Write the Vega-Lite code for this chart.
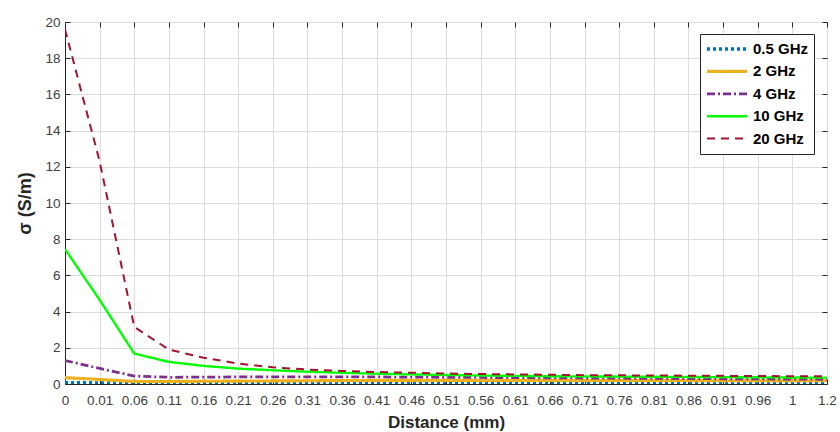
{
  "$schema": "https://vega.github.io/schema/vega-lite/v6.json",
  "width": 762,
  "height": 362,
  "autosize": {"type": "none"},
  "padding": {"left": 65, "top": 22, "right": 13, "bottom": 48},
  "background": "white",
  "config": {
    "font": "Liberation Sans",
    "view": {"stroke": "#262626", "strokeWidth": 1}
  },
  "datasets": {
    "sigma": [
      {"d": "0", "i": 0, "f": "0.5 GHz", "s": 0.07}, {"d": "0.01", "i": 1, "f": "0.5 GHz", "s": 0.06}, {"d": "0.06", "i": 2, "f": "0.5 GHz", "s": 0.05}, {"d": "0.11", "i": 3, "f": "0.5 GHz", "s": 0.05}, {"d": "0.16", "i": 4, "f": "0.5 GHz", "s": 0.05}, {"d": "0.21", "i": 5, "f": "0.5 GHz", "s": 0.05}, {"d": "0.26", "i": 6, "f": "0.5 GHz", "s": 0.05}, {"d": "0.31", "i": 7, "f": "0.5 GHz", "s": 0.06}, {"d": "0.36", "i": 8, "f": "0.5 GHz", "s": 0.06}, {"d": "0.41", "i": 9, "f": "0.5 GHz", "s": 0.06}, {"d": "0.46", "i": 10, "f": "0.5 GHz", "s": 0.06}, {"d": "0.51", "i": 11, "f": "0.5 GHz", "s": 0.06}, {"d": "0.56", "i": 12, "f": "0.5 GHz", "s": 0.06}, {"d": "0.61", "i": 13, "f": "0.5 GHz", "s": 0.06}, {"d": "0.66", "i": 14, "f": "0.5 GHz", "s": 0.06}, {"d": "0.71", "i": 15, "f": "0.5 GHz", "s": 0.06}, {"d": "0.76", "i": 16, "f": "0.5 GHz", "s": 0.06}, {"d": "0.81", "i": 17, "f": "0.5 GHz", "s": 0.06}, {"d": "0.86", "i": 18, "f": "0.5 GHz", "s": 0.06}, {"d": "0.91", "i": 19, "f": "0.5 GHz", "s": 0.06}, {"d": "0.96", "i": 20, "f": "0.5 GHz", "s": 0.06}, {"d": "1", "i": 21, "f": "0.5 GHz", "s": 0.06}, {"d": "1.2", "i": 22, "f": "0.5 GHz", "s": 0.06},
      {"d": "0", "i": 0, "f": "2 GHz", "s": 0.35}, {"d": "0.01", "i": 1, "f": "2 GHz", "s": 0.25}, {"d": "0.06", "i": 2, "f": "2 GHz", "s": 0.14}, {"d": "0.11", "i": 3, "f": "2 GHz", "s": 0.14}, {"d": "0.16", "i": 4, "f": "2 GHz", "s": 0.15}, {"d": "0.21", "i": 5, "f": "2 GHz", "s": 0.16}, {"d": "0.26", "i": 6, "f": "2 GHz", "s": 0.17}, {"d": "0.31", "i": 7, "f": "2 GHz", "s": 0.18}, {"d": "0.36", "i": 8, "f": "2 GHz", "s": 0.19}, {"d": "0.41", "i": 9, "f": "2 GHz", "s": 0.2}, {"d": "0.46", "i": 10, "f": "2 GHz", "s": 0.2}, {"d": "0.51", "i": 11, "f": "2 GHz", "s": 0.2}, {"d": "0.56", "i": 12, "f": "2 GHz", "s": 0.2}, {"d": "0.61", "i": 13, "f": "2 GHz", "s": 0.2}, {"d": "0.66", "i": 14, "f": "2 GHz", "s": 0.2}, {"d": "0.71", "i": 15, "f": "2 GHz", "s": 0.19}, {"d": "0.76", "i": 16, "f": "2 GHz", "s": 0.19}, {"d": "0.81", "i": 17, "f": "2 GHz", "s": 0.19}, {"d": "0.86", "i": 18, "f": "2 GHz", "s": 0.19}, {"d": "0.91", "i": 19, "f": "2 GHz", "s": 0.18}, {"d": "0.96", "i": 20, "f": "2 GHz", "s": 0.18}, {"d": "1", "i": 21, "f": "2 GHz", "s": 0.18}, {"d": "1.2", "i": 22, "f": "2 GHz", "s": 0.18},
      {"d": "0", "i": 0, "f": "4 GHz", "s": 1.3}, {"d": "0.01", "i": 1, "f": "4 GHz", "s": 0.86}, {"d": "0.06", "i": 2, "f": "4 GHz", "s": 0.44}, {"d": "0.11", "i": 3, "f": "4 GHz", "s": 0.37}, {"d": "0.16", "i": 4, "f": "4 GHz", "s": 0.38}, {"d": "0.21", "i": 5, "f": "4 GHz", "s": 0.39}, {"d": "0.26", "i": 6, "f": "4 GHz", "s": 0.4}, {"d": "0.31", "i": 7, "f": "4 GHz", "s": 0.4}, {"d": "0.36", "i": 8, "f": "4 GHz", "s": 0.4}, {"d": "0.41", "i": 9, "f": "4 GHz", "s": 0.39}, {"d": "0.46", "i": 10, "f": "4 GHz", "s": 0.38}, {"d": "0.51", "i": 11, "f": "4 GHz", "s": 0.37}, {"d": "0.56", "i": 12, "f": "4 GHz", "s": 0.36}, {"d": "0.61", "i": 13, "f": "4 GHz", "s": 0.35}, {"d": "0.66", "i": 14, "f": "4 GHz", "s": 0.34}, {"d": "0.71", "i": 15, "f": "4 GHz", "s": 0.33}, {"d": "0.76", "i": 16, "f": "4 GHz", "s": 0.32}, {"d": "0.81", "i": 17, "f": "4 GHz", "s": 0.31}, {"d": "0.86", "i": 18, "f": "4 GHz", "s": 0.3}, {"d": "0.91", "i": 19, "f": "4 GHz", "s": 0.29}, {"d": "0.96", "i": 20, "f": "4 GHz", "s": 0.28}, {"d": "1", "i": 21, "f": "4 GHz", "s": 0.27}, {"d": "1.2", "i": 22, "f": "4 GHz", "s": 0.26},
      {"d": "0", "i": 0, "f": "10 GHz", "s": 7.45}, {"d": "0.01", "i": 1, "f": "10 GHz", "s": 4.65}, {"d": "0.06", "i": 2, "f": "10 GHz", "s": 1.68}, {"d": "0.11", "i": 3, "f": "10 GHz", "s": 1.22}, {"d": "0.16", "i": 4, "f": "10 GHz", "s": 1.0}, {"d": "0.21", "i": 5, "f": "10 GHz", "s": 0.85}, {"d": "0.26", "i": 6, "f": "10 GHz", "s": 0.76}, {"d": "0.31", "i": 7, "f": "10 GHz", "s": 0.68}, {"d": "0.36", "i": 8, "f": "10 GHz", "s": 0.62}, {"d": "0.41", "i": 9, "f": "10 GHz", "s": 0.57}, {"d": "0.46", "i": 10, "f": "10 GHz", "s": 0.53}, {"d": "0.51", "i": 11, "f": "10 GHz", "s": 0.5}, {"d": "0.56", "i": 12, "f": "10 GHz", "s": 0.47}, {"d": "0.61", "i": 13, "f": "10 GHz", "s": 0.45}, {"d": "0.66", "i": 14, "f": "10 GHz", "s": 0.43}, {"d": "0.71", "i": 15, "f": "10 GHz", "s": 0.42}, {"d": "0.76", "i": 16, "f": "10 GHz", "s": 0.41}, {"d": "0.81", "i": 17, "f": "10 GHz", "s": 0.4}, {"d": "0.86", "i": 18, "f": "10 GHz", "s": 0.39}, {"d": "0.91", "i": 19, "f": "10 GHz", "s": 0.38}, {"d": "0.96", "i": 20, "f": "10 GHz", "s": 0.37}, {"d": "1", "i": 21, "f": "10 GHz", "s": 0.36}, {"d": "1.2", "i": 22, "f": "10 GHz", "s": 0.35},
      {"d": "0", "i": 0, "f": "20 GHz", "s": 19.6}, {"d": "0.01", "i": 1, "f": "20 GHz", "s": 12.3}, {"d": "0.06", "i": 2, "f": "20 GHz", "s": 3.15}, {"d": "0.11", "i": 3, "f": "20 GHz", "s": 1.9}, {"d": "0.16", "i": 4, "f": "20 GHz", "s": 1.45}, {"d": "0.21", "i": 5, "f": "20 GHz", "s": 1.13}, {"d": "0.26", "i": 6, "f": "20 GHz", "s": 0.92}, {"d": "0.31", "i": 7, "f": "20 GHz", "s": 0.8}, {"d": "0.36", "i": 8, "f": "20 GHz", "s": 0.72}, {"d": "0.41", "i": 9, "f": "20 GHz", "s": 0.66}, {"d": "0.46", "i": 10, "f": "20 GHz", "s": 0.62}, {"d": "0.51", "i": 11, "f": "20 GHz", "s": 0.58}, {"d": "0.56", "i": 12, "f": "20 GHz", "s": 0.55}, {"d": "0.61", "i": 13, "f": "20 GHz", "s": 0.53}, {"d": "0.66", "i": 14, "f": "20 GHz", "s": 0.51}, {"d": "0.71", "i": 15, "f": "20 GHz", "s": 0.49}, {"d": "0.76", "i": 16, "f": "20 GHz", "s": 0.48}, {"d": "0.81", "i": 17, "f": "20 GHz", "s": 0.47}, {"d": "0.86", "i": 18, "f": "20 GHz", "s": 0.46}, {"d": "0.91", "i": 19, "f": "20 GHz", "s": 0.45}, {"d": "0.96", "i": 20, "f": "20 GHz", "s": 0.44}, {"d": "1", "i": 21, "f": "20 GHz", "s": 0.43}, {"d": "1.2", "i": 22, "f": "20 GHz", "s": 0.42}
    ]
  },
  "data": {"name": "sigma"},
  "layer": [
    {
      "mark": {"type": "line", "opacity": 0},
      "encoding": {
        "x": {
          "field": "d", "type": "ordinal", "sort": {"field": "i"},
          "scale": {"type": "point", "padding": 0},
          "axis": {"orient": "top", "labels": false, "title": null, "grid": false, "domain": false, "tickSize": -5, "tickColor": "#262626"}
        },
        "y": {
          "field": "s", "type": "quantitative",
          "scale": {"domain": [0, 20]},
          "axis": {"orient": "right", "labels": false, "title": null, "grid": false, "domain": false, "tickSize": -5, "tickColor": "#262626", "values": [0, 2, 4, 6, 8, 10, 12, 14, 16, 18, 20]}
        },
        "detail": {"field": "f"}
      }
    },
    {
      "mark": {"type": "line", "clip": true},
      "encoding": {
        "x": {
          "field": "d", "type": "ordinal", "sort": {"field": "i"},
          "scale": {"type": "point", "padding": 0},
          "axis": {
            "orient": "bottom", "title": "Distance (mm)", "labelAngle": 0,
            "labelFontSize": 13.5, "labelColor": "#404040", "labelPadding": 14,
            "titleFontSize": 17, "titleFontWeight": "bold", "titleColor": "#262626", "titlePadding": 8,
            "grid": true, "gridColor": "#dcdcdc", "domainColor": "#262626",
            "tickSize": -5, "tickColor": "#262626"
          }
        },
        "y": {
          "field": "s", "type": "quantitative",
          "scale": {"domain": [0, 20]},
          "axis": {
            "orient": "left", "title": "σ  (S/m)", "values": [0, 2, 4, 6, 8, 10, 12, 14, 16, 18, 20],
            "labelFontSize": 13.5, "labelColor": "#404040", "labelPadding": 10,
            "titleFontSize": 18, "titleFontWeight": "bold", "titleColor": "#262626", "titlePadding": 10,
            "grid": true, "gridColor": "#dcdcdc", "domainColor": "#262626",
            "tickSize": -5, "tickColor": "#262626"
          }
        },
        "color": {
          "field": "f", "type": "nominal", "title": null,
          "scale": {"domain": ["0.5 GHz", "2 GHz", "4 GHz", "10 GHz", "20 GHz"], "range": ["#0072BD", "#EDB120", "#7E2F8E", "#00FF00", "#A2142F"]},
          "legend": {
            "orient": "none", "legendX": 635, "legendY": 12,
            "symbolType": "stroke", "symbolSize": 1600, "symbolStrokeWidth": 2.5,
            "labelFontSize": 15, "labelFontWeight": "bold", "labelColor": "#000000",
            "clipHeight": 20, "rowPadding": 2.4, "padding": 5,
            "strokeColor": "#262626", "fillColor": "white", "labelOffset": 4
          }
        },
        "strokeDash": {
          "field": "f", "type": "nominal", "title": null,
          "scale": {"domain": ["0.5 GHz", "2 GHz", "4 GHz", "10 GHz", "20 GHz"], "range": [[3, 3], [1, 0], [8, 3, 2, 3], [1, 0], [8, 6]]}
        },
        "strokeWidth": {
          "field": "f", "type": "nominal", "title": null,
          "scale": {"domain": ["0.5 GHz", "2 GHz", "4 GHz", "10 GHz", "20 GHz"], "range": [3.5, 2, 2, 2, 2]}
        }
      }
    }
  ],
  "resolve": {"axis": {"x": "independent", "y": "independent"}}
}
